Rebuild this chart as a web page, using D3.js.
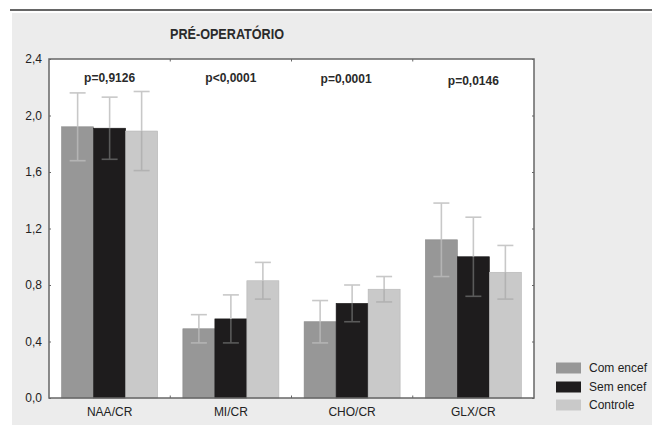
<!DOCTYPE html>
<html><head><meta charset="utf-8">
<script src="https://cdn.jsdelivr.net/npm/d3@7"></script>
<style>body{margin:0;background:#fff}svg{display:block}text{font-family:"Liberation Sans",Arial,sans-serif}</style>
</head><body><svg id="c" width="652" height="432"></svg>
<script>
const categories = ["NAA/CR","MI/CR","CHO/CR","GLX/CR"];
const seriesNames = ["Com encef","Sem encef","Controle"];
const comMean = [1.92,0.49,0.54,1.12];
const comLow  = [1.68,0.39,0.39,0.86];
const comHigh = [2.16,0.59,0.69,1.38];
const semMean = [1.91,0.56,0.67,1.00];
const semLow  = [1.69,0.39,0.54,0.72];
const semHigh = [2.13,0.73,0.80,1.28];
const ctlMean = [1.89,0.83,0.77,0.89];
const ctlLow  = [1.61,0.70,0.68,0.70];
const ctlHigh = [2.17,0.96,0.86,1.08];
const pLabels = ["p=0,9126","p<0,0001","p=0,0001","p=0,0146"];
const yTicks = [0,0.4,0.8,1.2,1.6,2.0,2.4];
const title = "PRÉ-OPERATÓRIO";

const colors = ["#979797","#1e1c1d","#c9c9c9"];
const innerWhisker = ["#b4b4b4","#5a5a5a","#b2b2b2"];
const series = [
  {name:seriesNames[0], mean:comMean, low:comLow, high:comHigh},
  {name:seriesNames[1], mean:semMean, low:semLow, high:semHigh},
  {name:seriesNames[2], mean:ctlMean, low:ctlLow, high:ctlHigh}
];

const svg = d3.select("#c");
svg.append("line").attr("x1",10).attr("x2",652).attr("y1",10).attr("y2",10).attr("stroke","#333").attr("stroke-width",1.5);
svg.append("rect").attr("x",12).attr("y",13).attr("width",640).attr("height",412).attr("fill","#ececec");

const L=49,R=534,T=59,B=398;
const x = d3.scaleBand().domain(categories).range([L,R]).paddingInner(0).paddingOuter(0);
const bw = 32;
const xs = d3.scaleBand().domain(seriesNames).range([0,bw*3]);
const y = d3.scaleLinear().domain([0,2.4]).range([B,T]);

svg.append("rect").attr("x",L).attr("y",T).attr("width",R-L).attr("height",B-T).attr("fill","#fff");

const g = svg.append("g");
series.forEach((s,si)=>{
  categories.forEach((c,ci)=>{
    const x0 = x(c)+x.bandwidth()/2-bw*1.5+xs(s.name);
    g.append("rect").attr("x",x0).attr("y",y(s.mean[ci])).attr("width",xs.bandwidth()).attr("height",B-y(s.mean[ci]))
      .attr("fill",colors[si]).attr("stroke",d3.color(colors[si]).darker(0.3)).attr("stroke-width",0.6);
  });
});
series.forEach((s,si)=>{
  categories.forEach((c,ci)=>{
    const cx = x(c)+x.bandwidth()/2-bw*1.5+xs(s.name)+xs.bandwidth()/2;
    const w="#c8c8c8";
    g.append("line").attr("x1",cx).attr("x2",cx).attr("y1",y(s.high[ci])).attr("y2",y(s.mean[ci])).attr("stroke",w).attr("stroke-width",1.6);
    g.append("line").attr("x1",cx).attr("x2",cx).attr("y1",y(s.mean[ci])).attr("y2",y(s.low[ci])).attr("stroke",innerWhisker[si]).attr("stroke-width",1.6);
    g.append("line").attr("x1",cx-8).attr("x2",cx+8).attr("y1",y(s.high[ci])).attr("y2",y(s.high[ci])).attr("stroke",w).attr("stroke-width",1.6);
    g.append("line").attr("x1",cx-8).attr("x2",cx+8).attr("y1",y(s.low[ci])).attr("y2",y(s.low[ci])).attr("stroke",innerWhisker[si]).attr("stroke-width",1.6);
  });
});

svg.append("rect").attr("x",L).attr("y",T).attr("width",R-L).attr("height",B-T).attr("fill","none").attr("stroke","#666").attr("stroke-width",1.5);

const fmt = d=>d3.format(".1f")(d).replace(".",",");
const yl = svg.append("g").attr("transform",`translate(${L},0)`).call(d3.axisRight(y).tickValues(yTicks).tickSize(2).tickFormat(""));
const yr = svg.append("g").attr("transform",`translate(${R},0)`).call(d3.axisLeft(y).tickValues(yTicks).tickSize(2).tickFormat(""));
[yl,yr].forEach(a=>{a.select(".domain").remove();a.selectAll("line").attr("stroke","#666");});
svg.append("g").selectAll("text").data(yTicks).join("text")
  .attr("x",42).attr("y",d=>y(d)).attr("dy","0.36em").attr("text-anchor","end")
  .attr("font-size",12).attr("fill","#222").text(fmt);

const bounds = categories.slice(1).map(c=>x(c));
svg.append("g").selectAll("line.tt").data(bounds).join("line").attr("x1",d=>d).attr("x2",d=>d).attr("y1",T).attr("y2",T+2.5).attr("stroke","#666");
svg.append("g").selectAll("line.bt").data(bounds).join("line").attr("x1",d=>d).attr("x2",d=>d).attr("y1",B).attr("y2",B-2.5).attr("stroke","#666");

svg.append("g").selectAll("text").data(categories).join("text")
  .attr("x",d=>x(d)+x.bandwidth()/2).attr("y",412).attr("dy","0.36em").attr("text-anchor","middle")
  .attr("font-size",12).attr("fill","#222").text(d=>d);

const pY = [78,78,79,81];
svg.append("g").selectAll("text").data(categories).join("text")
  .attr("x",(d,i)=>x(d)+x.bandwidth()/2-(i===2?6:0)).attr("y",(d,i)=>pY[i]).attr("dy","0.36em").attr("text-anchor","middle")
  .attr("font-size",12).attr("font-weight","bold").attr("fill","#2a2a2a").text((d,i)=>pLabels[i]);

svg.append("text").attr("x",227).attr("y",34).attr("dy","0.36em").attr("text-anchor","middle")
  .attr("font-size",14).attr("font-weight","bold").attr("fill","#2a2a2a")
  .attr("textLength",114).attr("lengthAdjust","spacingAndGlyphs").text(title);

const lg = svg.append("g");
const ly = [368,387,405];
seriesNames.forEach((n,i)=>{
  lg.append("rect").attr("x",556).attr("y",ly[i]-5.5).attr("width",25).attr("height",11).attr("fill",colors[i]);
  lg.append("text").attr("x",589).attr("y",ly[i]).attr("dy","0.36em").attr("font-size",12).attr("fill","#222").text(n);
});
</script></body></html>
